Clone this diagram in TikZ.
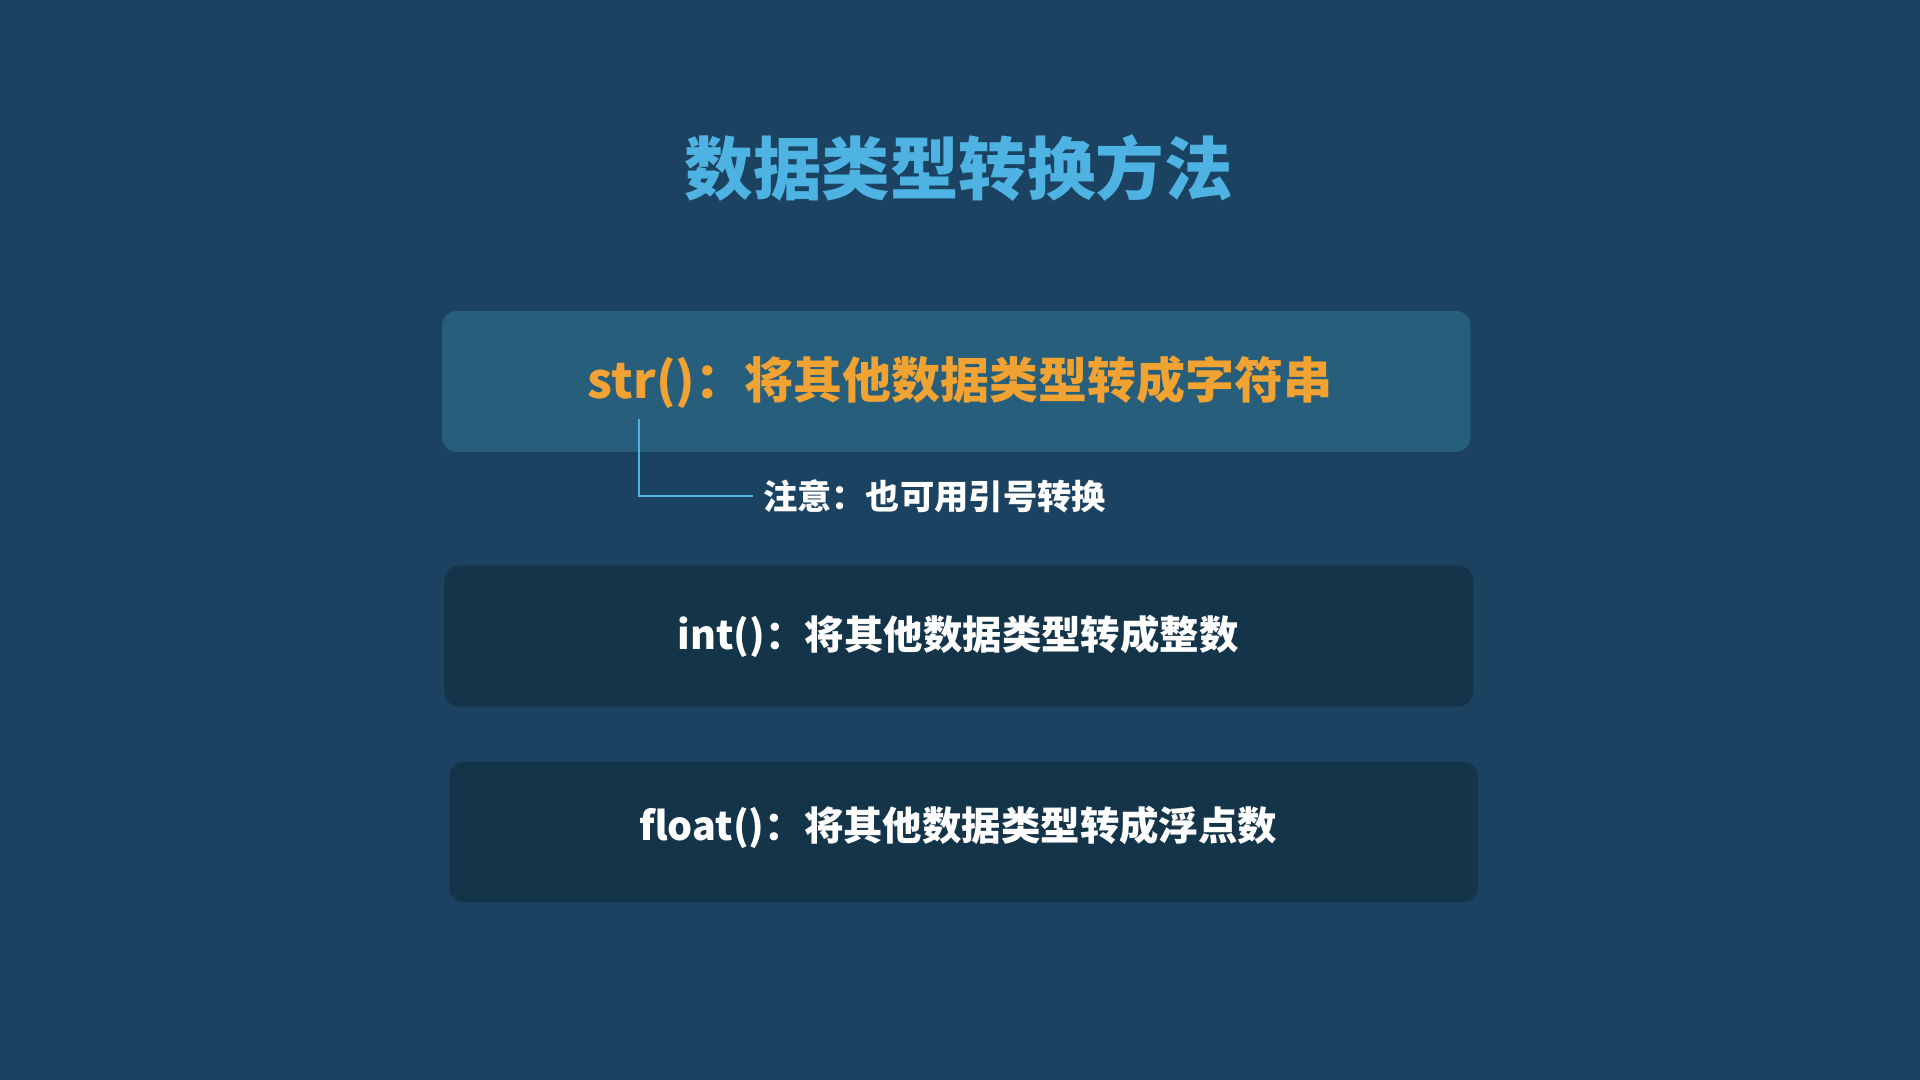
\documentclass[tikz,border=0pt]{standalone}
\usepackage{fontspec}
\setmainfont{Noto Sans CJK SC}
\definecolor{bgc}{HTML}{1B4260}
\definecolor{boxhi}{HTML}{275E7C}
\definecolor{boxlo}{HTML}{14344A}
\definecolor{titleblue}{HTML}{4EB3E2}
\definecolor{orangec}{HTML}{F0A232}
\tikzset{
  card/.style={rounded corners=12pt, minimum width=840pt, minimum height=115pt, inner sep=0pt},
  cardtext/.style={inner sep=0pt, anchor=center, font=\bfseries},
}
\begin{document}
\begin{tikzpicture}[x=1pt,y=-1pt]
\fill[bgc] (0,0) rectangle (1568,882);
\useasboundingbox (0,0) rectangle (1568,882);
% title
\node[cardtext, text=titleblue, font=\bfseries\fontsize{56}{60}\selectfont] (title) at (783,137) {数据类型转换方法};
% cards
\node[card, fill=boxhi] (b1) at (781,311.5) {};
\node[card, fill=boxlo] (b2) at (783,519.5) {};
\node[card, fill=boxlo] (b3) at (787,679.5) {};
\node[cardtext, text=orangec, font=\bfseries\fontsize{40}{44}\selectfont] (t1) at (784,312) {str()：将其他数据类型转成字符串};
\node[cardtext, text=white, font=\bfseries\fontsize{32.2}{36}\selectfont] (t2) at (782.5,520) {int()：将其他数据类型转成整数};
\node[cardtext, text=white, font=\bfseries\fontsize{32.2}{36}\selectfont] (t3) at (782.5,676) {float()：将其他数据类型转成浮点数};
% note
\node[inner sep=0pt, anchor=west, text=white, font=\bfseries\fontsize{28}{32}\selectfont] (note) at (623,405) {注意：也可用引号转换};
\coordinate (c1) at (522,342);
\draw[titleblue, line width=1.5pt] (c1) |- ([xshift=-8pt]note.west);
\end{tikzpicture}
\end{document}
